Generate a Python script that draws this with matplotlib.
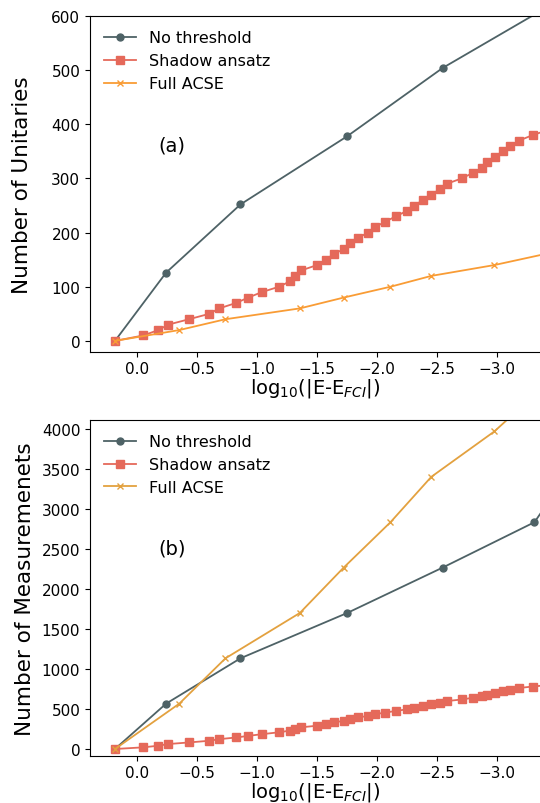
import matplotlib.pyplot as plt
import numpy as np

# 数据 (log10 误差, 从参考图读出)
nt_x = [0.186, -0.24, -0.86, -1.75, -2.545, -3.6]
nt_unitaries = [0, 126, 252, 378, 504, 640]
nt_x_meas = [0.186, -0.24, -0.86, -1.75, -2.545, -3.31, -3.5]
nt_meas = [0, 567, 1134, 1701, 2268, 2835, 3250]

sh_x = [0.186, -0.05, -0.175, -0.258, -0.431, -0.6, -0.683, -0.823, -0.925, -1.037,
        -1.181, -1.273, -1.314, -1.364, -1.498, -1.57, -1.637, -1.723, -1.773, -1.842,
        -1.92, -1.983, -2.064, -2.156, -2.245, -2.306, -2.383, -2.445, -2.523, -2.578,
        -2.703, -2.795, -2.87, -2.912, -2.981, -3.045, -3.106, -3.183, -3.295, -3.43]
sh_unitaries = [0, 10, 20, 30, 40, 50, 60, 70, 80, 90,
                100, 110, 120, 130, 140, 150, 160, 170, 180, 190,
                200, 210, 220, 230, 240, 250, 260, 270, 280, 290,
                300, 310, 320, 330, 340, 350, 360, 370, 380, 390]
sh_meas = [0, 21, 41, 62, 82, 103, 123, 144, 164, 185,
           209, 230, 250, 271, 291, 312, 332, 353, 373, 394,
           414, 435, 455, 476, 496, 517, 537, 558, 578, 599,
           619, 640, 660, 681, 701, 722, 742, 763, 781, 800]

fa_x = [0.186, -0.35, -0.735, -1.355, -1.72, -2.11, -2.45, -2.975, -3.39]
fa_unitaries = [0, 20, 40, 60, 80, 100, 120, 140, 160]
fa_meas = [0, 567, 1134, 1701, 2268, 2835, 3402, 3969, 4536]

labels = ['No threshold', 'Shadow ansatz', 'Full ACSE']
c_nt = '#4e6266'
c_sh = '#e5695a'
c_fa_top = '#f99c35'
c_fa_bot = '#e3a13f'

fig = plt.figure(figsize=(5.4, 8.04), dpi=100)
ax1 = fig.add_axes([0.1667, 0.5613, 0.8333, 0.4176])
ax2 = fig.add_axes([0.1667, 0.0588, 0.8333, 0.4179])

xlabel = r'log$_{10}$(|E-E$_{FCI}$|)'

# (a) 酉算符数
ax1.plot(nt_x, nt_unitaries, '-o', color=c_nt, lw=1.3, ms=5, label=labels[0])
ax1.plot(sh_x, sh_unitaries, '-s', color=c_sh, lw=1.3, ms=5.5, label=labels[1])
ax1.plot(fa_x, fa_unitaries, '-x', color=c_fa_top, lw=1.3, ms=5, mew=1.0, label=labels[2])
ax1.set_xlim(0.394, -3.356)
ax1.set_ylim(-20, 600)
ax1.set_yticks(np.arange(0, 601, 100))
ax1.set_xticks([0.0, -0.5, -1.0, -1.5, -2.0, -2.5, -3.0])
ax1.set_xlabel(xlabel, fontsize=14, labelpad=0)
ax1.set_ylabel('Number of Unitaries', fontsize=15.5, labelpad=14)
ax1.text(0.182, 0.616, '(a)', transform=ax1.transAxes, fontsize=14, ha='center', va='center')
ax1.legend(loc='upper left', frameon=False, fontsize=11.5)

# (b) 测量数
ax2.plot(nt_x_meas, nt_meas, '-o', color=c_nt, lw=1.3, ms=5, label=labels[0])
ax2.plot(sh_x, sh_meas, '-s', color=c_sh, lw=1.3, ms=5.5, label=labels[1])
ax2.plot(fa_x, fa_meas, '-x', color=c_fa_bot, lw=1.3, ms=5, mew=1.0, label=labels[2])
ax2.set_xlim(0.394, -3.356)
ax2.set_ylim(-84, 4116)
ax2.set_yticks(np.arange(0, 4001, 500))
ax2.set_xticks([0.0, -0.5, -1.0, -1.5, -2.0, -2.5, -3.0])
ax2.set_xlabel(xlabel, fontsize=14, labelpad=0)
ax2.set_ylabel('Number of Measuremenets', fontsize=15.5, labelpad=5)
ax2.text(0.182, 0.618, '(b)', transform=ax2.transAxes, fontsize=14, ha='center', va='center')
ax2.legend(loc='upper left', frameon=False, fontsize=11.5)

for ax in (ax1, ax2):
    ax.spines['right'].set_visible(False)
    ax.tick_params(labelsize=11)

plt.savefig('out.png', dpi=100)
plt.close()
